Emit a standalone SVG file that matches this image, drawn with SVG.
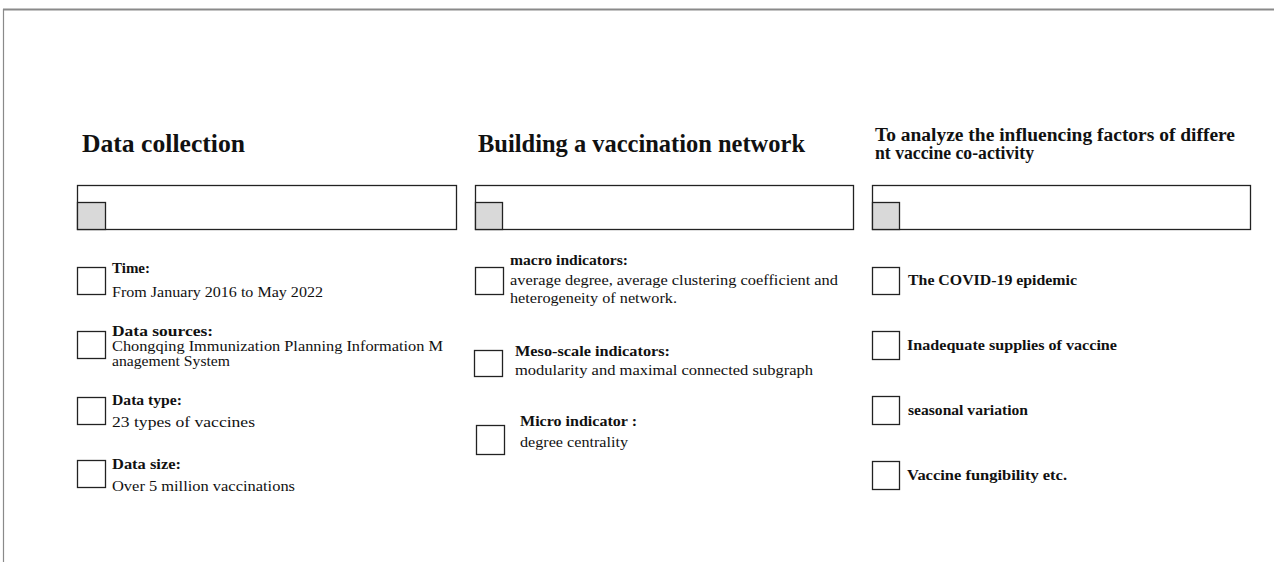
<svg xmlns="http://www.w3.org/2000/svg" width="1274" height="562" viewBox="0 0 1274 562">
<style>
.t{font-family:"Liberation Serif","Times New Roman",serif;fill:#111}
.h{font-weight:bold;font-size:25px}
.h3{font-weight:bold;font-size:18px}
.b{font-weight:bold;font-size:15px}
.r{font-size:15.5px}
.s{font-size:14px}
.box{fill:#fff;stroke:#222;stroke-width:1.3}
.wide{fill:#fff;stroke:#222;stroke-width:1.3}
.gray{fill:#d9d9d9;stroke:#222;stroke-width:1.3}
</style>
<rect width="1274" height="562" fill="#fff"/>
<g id="frame" stroke="#8a8a8a" fill="none">
<line x1="3" y1="9.5" x2="1274" y2="9.5" stroke-width="2"/>
<line x1="3.5" y1="9" x2="3.5" y2="562" stroke-width="1.2"/>
</g>
<g id="connectors"></g>
<g id="col1">
<text class="t h" x="82" y="152" textLength="163" lengthAdjust="spacingAndGlyphs">Data collection</text>
<rect class="wide" x="77.5" y="185.5" width="379" height="44"/>
<rect class="gray" x="77.5" y="202.5" width="28" height="27"/>
</g>
<g id="time">
<rect class="box" x="77.5" y="267.5" width="28" height="27"/>
<text class="t b" x="112" y="273" textLength="38" lengthAdjust="spacingAndGlyphs">Time:</text>
<text class="t r" x="112" y="297" textLength="211" lengthAdjust="spacingAndGlyphs">From January 2016  to May 2022</text>
</g>
<g id="sources">
<rect class="box" x="77.5" y="331.5" width="28" height="27"/>
<text class="t b s" x="112" y="336" textLength="101" lengthAdjust="spacingAndGlyphs">Data  sources:</text>
<text class="t s" x="112" y="351" textLength="331" lengthAdjust="spacingAndGlyphs">Chongqing Immunization  Planning Information  M</text>
<text class="t s" x="112" y="366" textLength="118" lengthAdjust="spacingAndGlyphs">anagement System</text>
</g>
<g id="type">
<rect class="box" x="77.5" y="397.5" width="28" height="27"/>
<text class="t b" x="112" y="405" textLength="70" lengthAdjust="spacingAndGlyphs">Data  type:</text>
<text class="t r" x="112" y="427" textLength="143" lengthAdjust="spacingAndGlyphs">23  types of vaccines</text>
</g>
<g id="size">
<rect class="box" x="77.5" y="460.5" width="28" height="27"/>
<text class="t b" x="112" y="469" textLength="69" lengthAdjust="spacingAndGlyphs">Data  size:</text>
<text class="t r" x="112" y="491" textLength="183" lengthAdjust="spacingAndGlyphs">Over 5 million  vaccinations</text>
</g>
<g id="col2">
<text class="t h" x="478" y="152" textLength="327" lengthAdjust="spacingAndGlyphs">Building  a vaccination  network</text>
<rect class="wide" x="475.5" y="185.5" width="378" height="44"/>
<rect class="gray" x="475.5" y="202.5" width="27" height="27"/>
</g>
<g id="macro">
<rect class="box" x="475.5" y="267.5" width="28" height="27"/>
<text class="t b" x="510" y="265" textLength="118" lengthAdjust="spacingAndGlyphs">macro  indicators:</text>
<text class="t r" x="510" y="285" textLength="328" lengthAdjust="spacingAndGlyphs">average degree, average clustering coefficient and</text>
<text class="t r" x="510" y="303" textLength="167" lengthAdjust="spacingAndGlyphs">heterogeneity of network.</text>
</g>
<g id="meso">
<rect class="box" x="474.5" y="350.5" width="28" height="26"/>
<text class="t b" x="515" y="356" textLength="155" lengthAdjust="spacingAndGlyphs">Meso-scale  indicators:</text>
<text class="t r" x="515" y="375" textLength="298" lengthAdjust="spacingAndGlyphs">modularity  and maximal   connected subgraph</text>
</g>
<g id="micro">
<rect class="box" x="476.5" y="425.5" width="28" height="29"/>
<text class="t b" x="520" y="426" textLength="117" lengthAdjust="spacingAndGlyphs">Micro  indicator  :</text>
<text class="t r" x="520" y="447" textLength="108" lengthAdjust="spacingAndGlyphs">degree centrality</text>
</g>
<g id="col3">
<text class="t h3" x="875" y="141" textLength="360" lengthAdjust="spacingAndGlyphs">To analyze the influencing  factors of differe</text>
<text class="t h3" x="875" y="159" textLength="159" lengthAdjust="spacingAndGlyphs">nt vaccine co-activity</text>
<rect class="wide" x="872.5" y="185.5" width="378" height="44"/>
<rect class="gray" x="872.5" y="202.5" width="27" height="27"/>
</g>
<g id="covid">
<rect class="box" x="872.5" y="267.5" width="27" height="27"/>
<text class="t b" x="908" y="285" textLength="169" lengthAdjust="spacingAndGlyphs">The COVID-19  epidemic</text>
</g>
<g id="supplies">
<rect class="box" x="872.5" y="331.5" width="27" height="28"/>
<text class="t b" x="907" y="350" textLength="210" lengthAdjust="spacingAndGlyphs">Inadequate  supplies of vaccine</text>
</g>
<g id="seasonal">
<rect class="box" x="872.5" y="396.5" width="27" height="28"/>
<text class="t b" x="908" y="415" textLength="120" lengthAdjust="spacingAndGlyphs">seasonal variation</text>
</g>
<g id="fungibility">
<rect class="box" x="872.5" y="461.5" width="27" height="28"/>
<text class="t b" x="907" y="480" textLength="160" lengthAdjust="spacingAndGlyphs">Vaccine fungibility etc.</text>
</g>
</svg>
